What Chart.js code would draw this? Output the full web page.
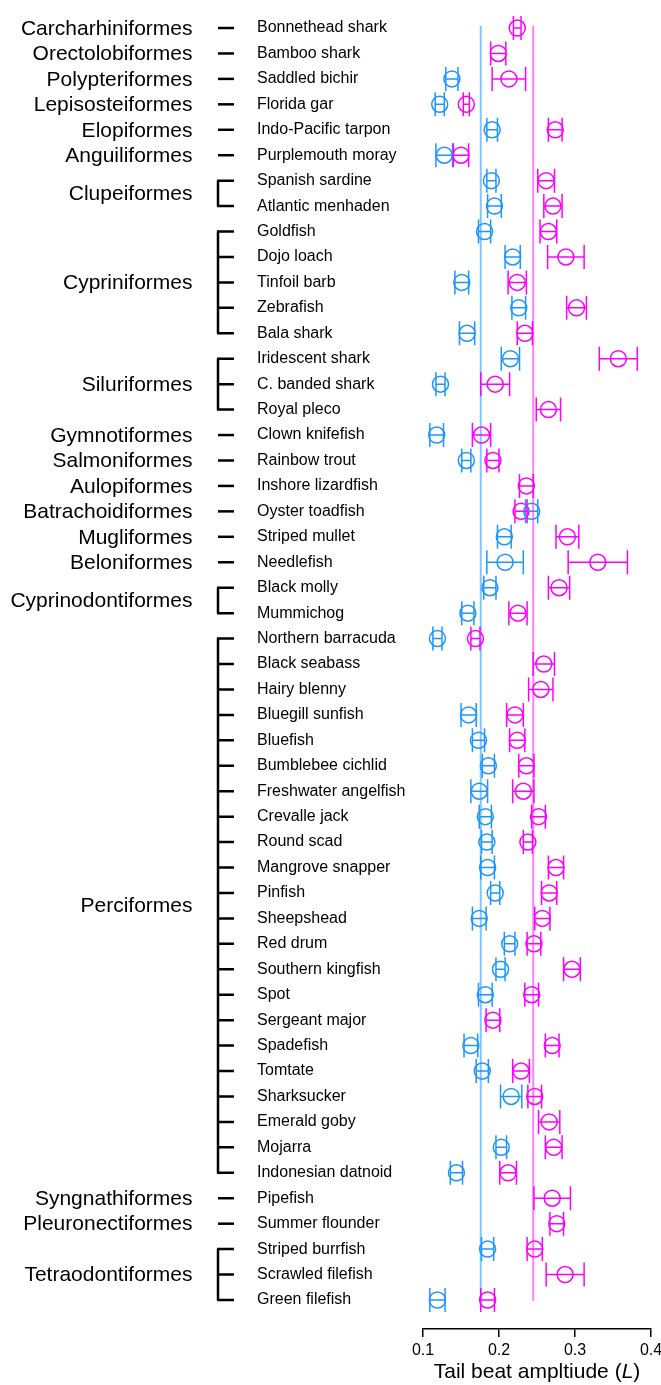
<!DOCTYPE html>
<html>
<head>
<meta charset="utf-8">
<title>Tail beat amplitude</title>
<script src="https://cdn.jsdelivr.net/npm/chart.js@4.4.1/dist/chart.umd.min.js"></script>
<style>
  html, body { margin: 0; padding: 0; background: #fff; }
  #wrap { width: 661px; height: 1385px; position: relative; }
</style>
</head>
<body>
<div id="wrap"><canvas id="ampChart"></canvas></div>
<script>
// ---- data ----
const species = [
  "Bonnethead shark", "Bamboo shark", "Saddled bichir", "Florida gar", "Indo-Pacific tarpon", "Purplemouth moray",
  "Spanish sardine", "Atlantic menhaden",
  "Goldfish", "Dojo loach", "Tinfoil barb", "Zebrafish", "Bala shark",
  "Iridescent shark", "C. banded shark", "Royal pleco",
  "Clown knifefish", "Rainbow trout", "Inshore lizardfish", "Oyster toadfish", "Striped mullet", "Needlefish",
  "Black molly", "Mummichog",
  "Northern barracuda", "Black seabass", "Hairy blenny", "Bluegill sunfish", "Bluefish", "Bumblebee cichlid",
  "Freshwater angelfish", "Crevalle jack", "Round scad", "Mangrove snapper", "Pinfish", "Sheepshead", "Red drum",
  "Southern kingfish", "Spot", "Sergeant major", "Spadefish", "Tomtate", "Sharksucker", "Emerald goby", "Mojarra",
  "Indonesian datnoid",
  "Pipefish", "Summer flounder",
  "Striped burrfish", "Scrawled filefish", "Green filefish"
];

const orders = [
  "Carcharhiniformes", "Orectolobiformes", "Polypteriformes", "Lepisosteiformes", "Elopiformes", "Anguiliformes",
  "Clupeiformes", "Cypriniformes", "Siluriformes", "Gymnotiformes", "Salmoniformes", "Aulopiformes",
  "Batrachoidiformes", "Mugliformes", "Beloniformes", "Cyprinodontiformes", "Perciformes", "Syngnathiformes",
  "Pleuronectiformes", "Tetraodontiformes"
];
// number of species in each order (same order as above)
const orderSizes = [1, 1, 1, 1, 1, 1, 2, 5, 3, 1, 1, 1, 1, 1, 1, 2, 22, 1, 1, 3];

// blue series (null = not measured)
const blueMean = [
  null, null, 0.138, 0.122, 0.191, 0.128,
  0.190, 0.194,
  0.181, 0.218, 0.151, 0.226, 0.158,
  0.215, 0.123, null,
  0.118, 0.157, null, 0.243, 0.207, 0.208,
  0.188, 0.159,
  0.119, null, null, 0.160, 0.173, 0.186, 0.174, 0.182, 0.184, 0.185, 0.195, 0.174, 0.214,
  0.202, 0.182, null, 0.163, 0.178, 0.216, null, 0.203, 0.144,
  null, null,
  0.185, null, 0.119
];
const blueErr = [
  null, null, 0.008, 0.006, 0.007, 0.011,
  0.006, 0.009,
  0.008, 0.010, 0.009, 0.009, 0.010,
  0.012, 0.006, null,
  0.009, 0.006, null, 0.008, 0.009, 0.024,
  0.008, 0.008,
  0.006, null, null, 0.010, 0.008, 0.008, 0.011, 0.008, 0.007, 0.009, 0.006, 0.009, 0.007,
  0.006, 0.009, null, 0.009, 0.008, 0.014, null, 0.007, 0.008,
  null, null,
  0.008, null, 0.010
];

// magenta series
const pinkMean = [
  0.224, 0.199, 0.213, 0.157, 0.274, 0.150,
  0.262, 0.271,
  0.265, 0.288, 0.224, 0.302, 0.234,
  0.357, 0.195, 0.265,
  0.177, 0.192, 0.236, 0.229, 0.290, 0.330,
  0.279, 0.225,
  0.169, 0.259, 0.255, 0.221, 0.224, 0.236, 0.232, 0.252, 0.238, 0.275, 0.266, 0.257, 0.246,
  0.296, 0.243, 0.192, 0.270, 0.229, 0.247, 0.266, 0.272, 0.212,
  0.270, 0.276,
  0.247, 0.287, 0.185
];
const pinkErr = [
  0.005, 0.010, 0.022, 0.004, 0.009, 0.010,
  0.011, 0.012,
  0.011, 0.024, 0.012, 0.013, 0.010,
  0.025, 0.019, 0.016,
  0.012, 0.008, 0.009, 0.008, 0.015, 0.039,
  0.014, 0.012,
  0.006, 0.014, 0.016, 0.011, 0.010, 0.010, 0.014, 0.009, 0.006, 0.010, 0.010, 0.010, 0.009,
  0.011, 0.009, 0.009, 0.009, 0.011, 0.009, 0.014, 0.011, 0.011,
  0.024, 0.009,
  0.010, 0.025, 0.009
];

// overall means (vertical lines)
const blueOverall = 0.176;
const pinkOverall = 0.245;

const xTicks = [0.1, 0.2, 0.3, 0.4];

// ---- styles ----
const BLUE = "#1E96FF";
const PINK = "#FF00FF";
const FONT = "'Liberation Sans', Arial, Helvetica, sans-serif";

function toPoints(means, errs) {
  const pts = [];
  means.forEach((m, i) => {
    if (m !== null) pts.push({ x: m, y: i, err: errs[i] });
  });
  return pts;
}

// ---- plugin: mean lines, error bars, order brackets, axis title ----
const fishPlot = {
  id: "fishPlot",
  beforeDatasetsDraw(chart) {
    const { ctx, scales: { x, y } } = chart;
    const top = y.getPixelForValue(-0.08);
    const bot = y.getPixelForValue(50.03);
    ctx.save();
    ctx.lineWidth = 2;
    [[blueOverall, "rgba(30,150,255,0.55)"], [pinkOverall, "rgba(255,0,255,0.5)"]].forEach(([v, c]) => {
      const px = x.getPixelForValue(v);
      ctx.strokeStyle = c;
      ctx.beginPath();
      ctx.moveTo(px, top);
      ctx.lineTo(px, bot);
      ctx.stroke();
    });
    ctx.restore();
  },
  afterDatasetsDraw(chart) {
    const { ctx, scales: { x, y } } = chart;
    ctx.save();
    ctx.lineWidth = 1.5;
    chart.data.datasets.forEach((ds) => {
      ctx.strokeStyle = ds.borderColor;
      ds.data.forEach((p) => {
        const py = y.getPixelForValue(p.y);
        const x0 = x.getPixelForValue(p.x - p.err);
        const x1 = x.getPixelForValue(p.x + p.err);
        ctx.beginPath();
        ctx.moveTo(x0, py);
        ctx.lineTo(x1, py);
        ctx.moveTo(x0, py - 12);
        ctx.lineTo(x0, py + 12);
        ctx.moveTo(x1, py - 12);
        ctx.lineTo(x1, py + 12);
        ctx.stroke();
      });
    });
    ctx.restore();
  },
  afterDraw(chart) {
    const { ctx, scales: { x, y }, chartArea } = chart;
    ctx.save();

    // order names + brackets
    let row = 0;
    ctx.strokeStyle = "#000";
    ctx.lineWidth = 2.5;
    ctx.fillStyle = "#000";
    ctx.font = "21px " + FONT;
    ctx.textAlign = "right";
    ctx.textBaseline = "middle";
    orders.forEach((name, k) => {
      const n = orderSizes[k];
      const first = y.getPixelForValue(row);
      const last = y.getPixelForValue(row + n - 1);
      ctx.beginPath();
      if (n > 1) {
        ctx.moveTo(218, first);
        ctx.lineTo(218, last);
      }
      for (let j = 0; j < n; j++) {
        const py = y.getPixelForValue(row + j);
        ctx.moveTo(n > 1 ? 217 : 218, py);
        ctx.lineTo(234, py);
      }
      ctx.stroke();
      ctx.fillText(name, 192.5, (first + last) / 2 + 1);
      row += n;
    });

    // x axis title with italic L
    const parts = [
      ["Tail beat ampltiude (", "21px " + FONT],
      ["L", "italic 21px " + FONT],
      [")", "21px " + FONT]
    ];
    let total = 0;
    parts.forEach(([t, f]) => { ctx.font = f; total += ctx.measureText(t).width; });
    let cx = (chartArea.left + chartArea.right) / 2 - total / 2;
    ctx.textAlign = "left";
    ctx.textBaseline = "alphabetic";
    parts.forEach(([t, f]) => {
      ctx.font = f;
      ctx.fillText(t, cx, 1378);
      cx += ctx.measureText(t).width;
    });
    ctx.restore();
  }
};

// ---- chart ----
const ctx = document.getElementById("ampChart");
new Chart(ctx, {
  type: "scatter",
  data: {
    datasets: [
      {
        label: "blue",
        data: toPoints(blueMean, blueErr),
        borderColor: BLUE,
        backgroundColor: "rgba(0,0,0,0)",
        borderWidth: 1.5,
        pointRadius: 8,
        pointHoverRadius: 8
      },
      {
        label: "magenta",
        data: toPoints(pinkMean, pinkErr),
        borderColor: PINK,
        backgroundColor: "rgba(0,0,0,0)",
        borderWidth: 1.5,
        pointRadius: 8,
        pointHoverRadius: 8
      }
    ]
  },
  options: {
    responsive: true,
    maintainAspectRatio: false,
    animation: false,
    layout: { padding: { left: 257, right: 10, top: 15.3, bottom: 0 } },
    plugins: {
      legend: { display: false },
      tooltip: { enabled: false }
    },
    scales: {
      x: {
        type: "linear",
        min: 0.1,
        max: 0.4,
        afterBuildTicks: (scale) => { scale.ticks = xTicks.map((v) => ({ value: v })); },
        afterFit: (scale) => {
          scale.height = 56;
          scale.paddingLeft = 0;
          scale.paddingRight = 0;
        },
        grid: { drawOnChartArea: false, drawTicks: true, tickLength: 8, color: "#000", lineWidth: 1.5 },
        border: { display: true, color: "#000", width: 1.5 },
        ticks: {
          color: "#000",
          padding: 4,
          font: { family: FONT, size: 16 },
          maxRotation: 0,
          callback: (v) => Number(v).toFixed(1)
        }
      },
      y: {
        type: "linear",
        reverse: true,
        min: -0.5,
        max: 51.14,
        afterBuildTicks: (scale) => { scale.ticks = species.map((s, i) => ({ value: i })); },
        afterFit: (scale) => { scale.width = 166; },
        grid: { display: false },
        border: { display: false },
        ticks: {
          autoSkip: false,
          crossAlign: "far",
          padding: 0,
          color: "#000",
          font: { family: FONT, size: 16 },
          callback: (v) => species[v] || ""
        }
      }
    }
  },
  plugins: [fishPlot]
});
</script>
</body>
</html>
